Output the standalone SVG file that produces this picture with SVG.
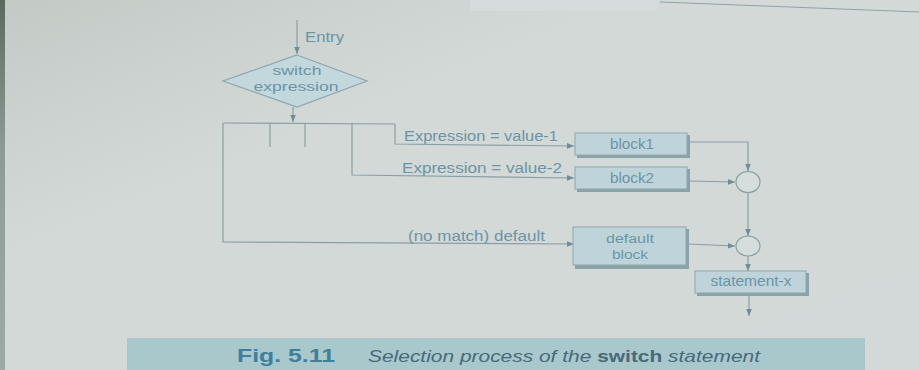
<svg xmlns="http://www.w3.org/2000/svg" width="919" height="370" viewBox="0 0 919 370">
  <defs>
    <linearGradient id="bg" x1="0" y1="0" x2="1" y2="1">
      <stop offset="0" stop-color="#c3cac6"/>
      <stop offset="0.35" stop-color="#d3d9d7"/>
      <stop offset="1" stop-color="#d2d9d8"/>
    </linearGradient>
    <linearGradient id="edge" x1="0" y1="0" x2="0" y2="1">
      <stop offset="0" stop-color="#5b6a5f"/>
      <stop offset="0.4" stop-color="#8e9b95"/>
      <stop offset="1" stop-color="#9eaaa7"/>
    </linearGradient>
    <marker id="ah" viewBox="0 0 10 10" refX="10" refY="5" markerWidth="7" markerHeight="7" markerUnits="userSpaceOnUse" orient="auto">
      <path d="M0,1 L10,5 L0,9 Z" fill="#6f8e98"/>
    </marker>
    <style>
      .ln { fill: none; stroke: #8c9ea2; stroke-width: 1.2; }
      .box { fill: #bed4da; stroke: #8fa6ac; stroke-width: 1; }
      .shadow { fill: #8aa2a9; }
      .t { font-family: "Liberation Sans", Arial, sans-serif; font-size: 14px; fill: #6b94a6; }
      .s { font-size: 12px; }
      .c { text-anchor: middle; }
      .circ { fill: #d6dedd; stroke: #8c9ea2; stroke-width: 1.2; }
    </style>
  </defs>

  <rect x="0" y="0" width="919" height="370" fill="url(#bg)"/>
  <rect x="0" y="0" width="5" height="370" fill="url(#edge)"/>

  <!-- header remnant -->
  <rect x="470" y="0" width="187" height="11" fill="#d5dcdb"/>
  <line x1="660" y1="2" x2="919" y2="12" stroke="#8fa3a5" stroke-width="1"/>

  <g id="connectors">
    <line class="ln" x1="297" y1="20" x2="297" y2="54" marker-end="url(#ah)"/>
    <line class="ln" x1="293" y1="107" x2="293" y2="122" marker-end="url(#ah)"/>
    <polyline class="ln" points="223,123 395,124"/>
    <line class="ln" x1="270" y1="123" x2="270" y2="147"/>
    <line class="ln" x1="305" y1="123" x2="305" y2="147"/>
    <polyline class="ln" points="395,124 395,144 574,146" marker-end="url(#ah)"/>
    <polyline class="ln" points="352,123 352,175 574,178" marker-end="url(#ah)"/>
    <polyline class="ln" points="223,123 223,242 574,244" marker-end="url(#ah)"/>
    <polyline class="ln" points="688,142 748,142 748,171" marker-end="url(#ah)"/>
    <line class="ln" x1="688" y1="181" x2="735" y2="182" marker-end="url(#ah)"/>
    <line class="ln" x1="748" y1="193" x2="748" y2="236" marker-end="url(#ah)"/>
    <line class="ln" x1="687" y1="244" x2="735" y2="246" marker-end="url(#ah)"/>
    <line class="ln" x1="748" y1="256" x2="748" y2="271" marker-end="url(#ah)"/>
    <line class="ln" x1="749" y1="295" x2="749" y2="316" marker-end="url(#ah)"/>
    <text class="t" x="404" y="141" textLength="154" lengthAdjust="spacingAndGlyphs">Expression = value-1</text>
    <text class="t" x="402" y="173" textLength="160" lengthAdjust="spacingAndGlyphs">Expression = value-2</text>
    <text class="t" x="408" y="241" textLength="137" lengthAdjust="spacingAndGlyphs">(no match) default</text>
  </g>

  <g id="entry">
    <text class="t" x="305" y="42" textLength="39" lengthAdjust="spacingAndGlyphs">Entry</text>
  </g>

  <g id="switch-expression">
    <polygon points="297,55 367,81 297,107 223,81" fill="#c3d8dd" stroke="#8fa6ac" stroke-width="1.2"/>
    <text class="t s c" x="297" y="75" textLength="49" lengthAdjust="spacingAndGlyphs">switch</text>
    <text class="t s c" x="296" y="91" textLength="85" lengthAdjust="spacingAndGlyphs">expression</text>
  </g>

  <g id="block1">
    <rect class="shadow" x="577" y="135" width="113" height="23"/>
    <rect class="box" x="575" y="133" width="112" height="22"/>
    <text class="t c" x="632" y="149" font-size="13" textLength="44" lengthAdjust="spacingAndGlyphs">block1</text>
  </g>

  <g id="block2">
    <rect class="shadow" x="577" y="169" width="113" height="23"/>
    <rect class="box" x="575" y="167" width="112" height="22"/>
    <text class="t c" x="632" y="183" font-size="13" textLength="44" lengthAdjust="spacingAndGlyphs">block2</text>
  </g>

  <g id="default-block">
    <rect class="shadow" x="575" y="229" width="114" height="40"/>
    <rect class="box" x="573" y="227" width="113" height="38"/>
    <text class="t s c" x="630" y="243" textLength="48" lengthAdjust="spacingAndGlyphs">default</text>
    <text class="t s c" x="630" y="259" textLength="36" lengthAdjust="spacingAndGlyphs">block</text>
  </g>

  <g id="junction1">
    <ellipse class="circ" cx="748" cy="182" rx="12" ry="10.5"/>
  </g>

  <g id="junction2">
    <ellipse class="circ" cx="748" cy="246" rx="12" ry="10"/>
  </g>

  <g id="statement-x">
    <rect class="shadow" x="697" y="273" width="112" height="23"/>
    <rect class="box" x="695" y="271" width="111" height="22"/>
    <text class="t c" x="751" y="286" font-size="13" textLength="81" lengthAdjust="spacingAndGlyphs">statement-x</text>
  </g>

  <g id="caption">
    <rect x="127" y="338" width="738" height="32" fill="#a8c8cc"/>
    <text x="237" y="362" font-family="'Liberation Sans', Arial, sans-serif" font-size="18" font-weight="bold" fill="#3f7f9c" textLength="98" lengthAdjust="spacingAndGlyphs">Fig. 5.11</text>
    <text x="368" y="362" font-family="'Liberation Sans', Arial, sans-serif" font-size="17" font-style="italic" fill="#48697a" textLength="392" lengthAdjust="spacingAndGlyphs">Selection process of the <tspan font-weight="bold" font-style="normal">switch</tspan> statement</text>
  </g>
</svg>
